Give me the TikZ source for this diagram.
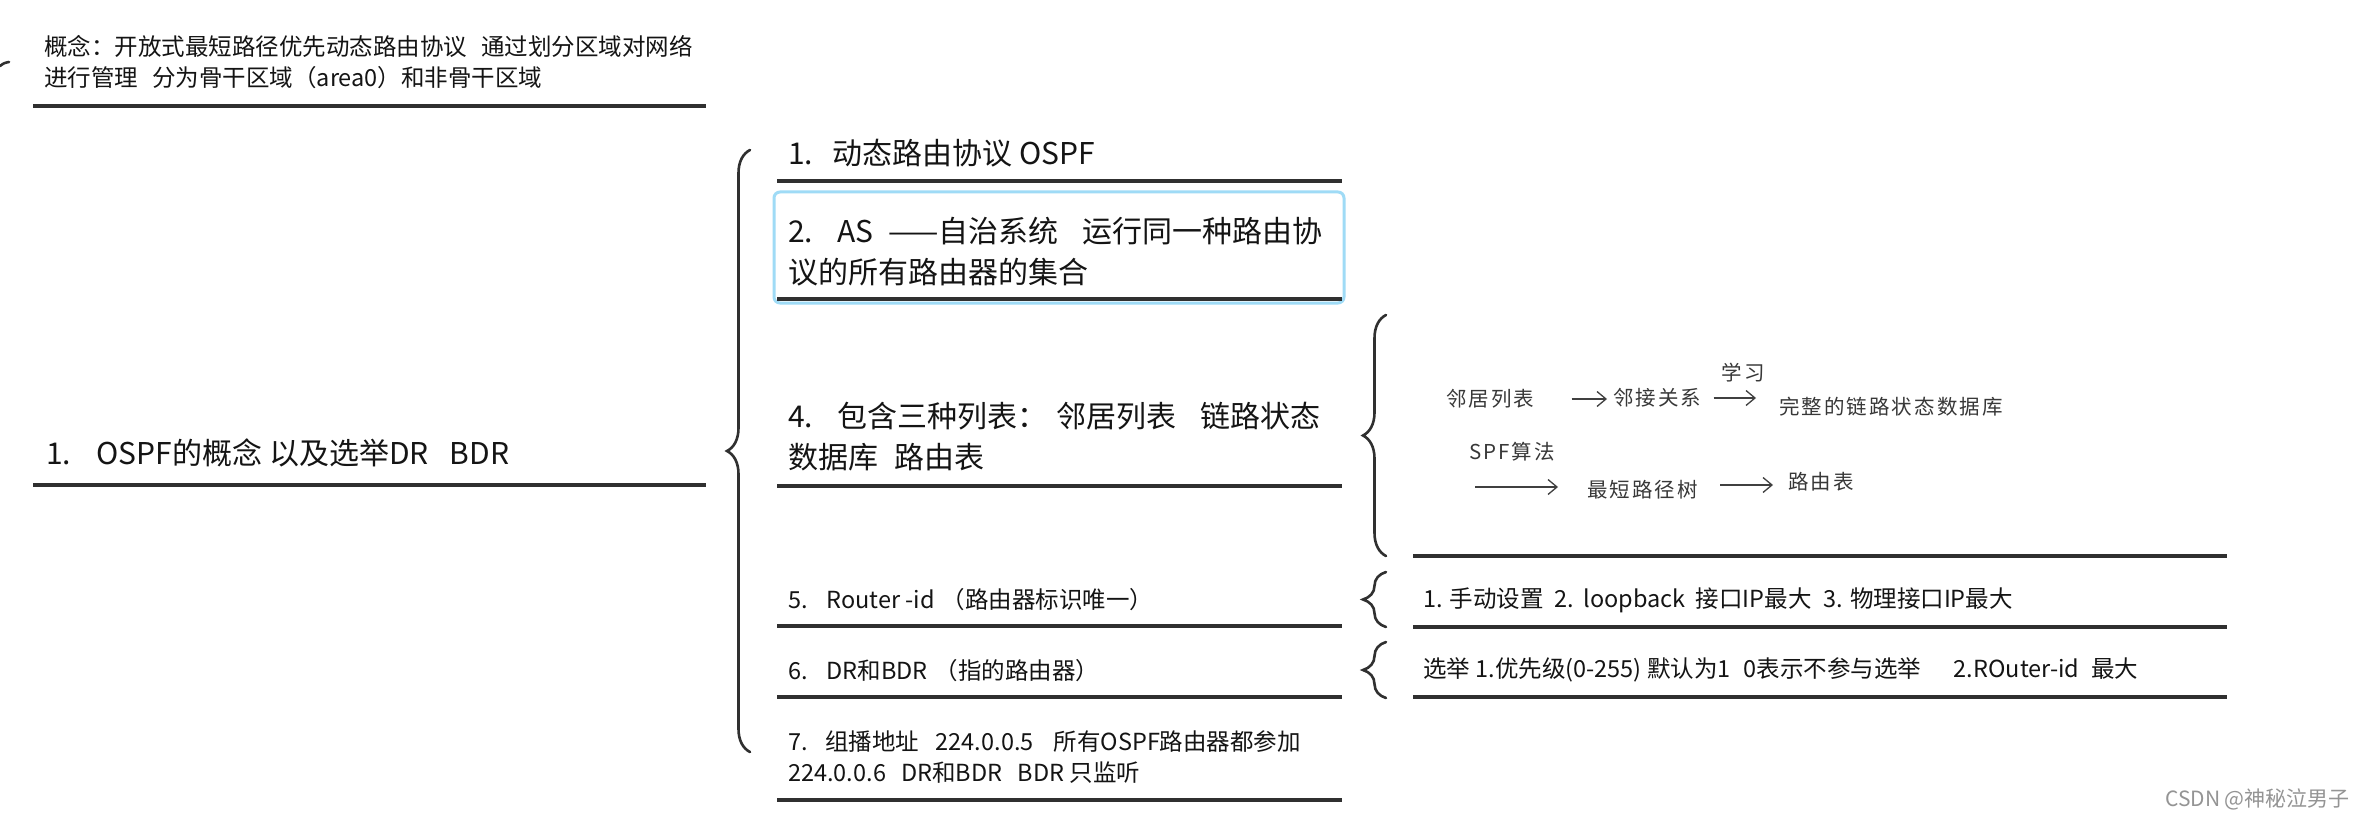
\documentclass[tikz,border=0pt]{standalone}
\usepackage{fontspec}
\setmainfont{Noto Sans CJK SC}
\newfontfamily\notefont[LetterSpace=10]{Noto Sans CJK SC}
\usetikzlibrary{decorations.pathreplacing,arrows.meta}
\definecolor{inkline}{HTML}{303030}
\definecolor{selblue}{HTML}{9FDBF6}
\newcommand{\fsz}[2]{\fontsize{#1}{#2}\selectfont}
\newcommand{\hsp}[1]{\hspace{#1em}}

\begin{document}
\begin{tikzpicture}[x=1pt,y=-1pt,
	topic/.style={anchor=west,inner sep=0pt,align=left,text=black!92},
	big/.style={topic,font=\fsz{30}{41}},
	small/.style={topic,font=\fsz{23.5}{31}},
	note/.style={inner sep=0pt,text=black!78,font=\notefont\fsz{20.5}{24}},
	uline/.style={line width=3.2pt,draw=inkline},
	bracel/.style={decorate,decoration={brace,amplitude=23pt},line width=2.6pt,draw=inkline,line cap=round},
	flow/.style={-{Straight Barb[length=9pt,width=15pt]},line width=1.3pt,draw=black!75}]
	
	\fill[white] (0,0) rectangle (2375,813);
	\useasboundingbox (0,0) rectangle (2375,813);
	
	% left column
	\coordinate (stub) at (9,62);
	\draw[line width=2.6pt,draw=inkline,line cap=round] (0,66) .. controls (4,63) .. (stub);
	\node[small] (concept) at (44,62.5) {概念：开放式最短路径优先动态路由协议\hsp{0.6}通过划分区域对网络\\进行管理\hsp{0.6}分为骨干区域（area0）和非骨干区域};
	\node[big] (ospf) at (46,453) {1.\hsp{0.85}OSPF的概念 以及选举DR\hsp{0.7}BDR};
	\draw[uline] (33,106) -- (706,106);
	\draw[uline] (33,485) -- (706,485);
	
	% main brace
	\coordinate (mainB) at (750,752);
	\coordinate (mainT) at (750,150);
	\draw[bracel] (mainB) -- (mainT);
	
	% items
	\draw[line width=3pt,draw=selblue,rounded corners=6pt] (774,192) rectangle (1344,303);
	\node[big] (item1) at (788,153) {1.\hsp{0.65}动态路由协议 OSPF};
	\node[big] (item2) at (788,252) {2.\hsp{0.8}AS\hsp{0.5}——自治系统\hsp{0.8}运行同一种路由协\\议的所有路由器的集合};
	\node[big] (item4) at (788,436.5) {4.\hsp{0.8}包含三种列表：\hsp{0.3}邻居列表\hsp{0.8}链路状态\\数据库\hsp{0.55}路由表};
	\node[small] (item5) at (788,600) {5.\hsp{0.8}Router -id\hsp{0.3}（路由器标识唯一）};
	\node[small] (item6) at (788,671) {6.\hsp{0.8}DR和BDR\hsp{0.3}（指的路由器）};
	\node[small] (item7) at (788,757.5) {7.\hsp{0.75}组播地址\hsp{0.7}224.0.0.5\hsp{0.85}所有OSPF路由器都参加\\224.0.0.6\hsp{0.65}DR和BDR\hsp{0.65}BDR 只监听};
	\foreach \y in {181,299,486,626,697,800}
		\draw[uline] (777,\y) -- (1342,\y);
	
	% right braces
	\foreach \nm/\top/\bot in {lists/315/556, rid/572/627, elect/642/698}
	{
		\coordinate (\nm B) at (1386,\bot);
		\coordinate (\nm T) at (1386,\top);
		\draw[bracel] (\nm B) -- (\nm T);
	}
	\foreach \y in {556,627,697}
		\draw[uline] (1413,\y) -- (2227,\y);
	
	\node[small] (rid) at (1423,600) {1. 手动设置\hsp{0.45}2.\hsp{0.4}loopback\hsp{0.45}接口IP最大\hsp{0.5}3. 物理接口IP最大};
	\node[small] (elect) at (1423,670) {选举 1.优先级(0-255) 默认为1\hsp{0.55}0表示不参与选举\hsp{1.4}2.ROuter-id\hsp{0.5}最大};
	
	% three lists
	\node[note,anchor=west] (nbr) at (1446,399) {邻居列表};
	\node[note,anchor=west] (adj) at (1613,398) {邻接关系};
	\node[note,anchor=west] (lsdb) at (1779,407) {完整的链路状态数据库};
	\node[note] (learn) at (1743,373) {学习};
	\node[note] (spf) at (1512,452) {SPF算法};
	\node[note,anchor=west] (spt) at (1587,490) {最短路径树};
	\node[note,anchor=west] (rtab) at (1788,482) {路由表};
	\coordinate (spfin) at (1475,487);
	
	\draw[flow,shorten <=37pt,shorten >=6pt] (nbr.east) -- (nbr.east -| adj.west);
	\draw[flow,shorten <=12pt,shorten >=23pt] (adj.east) -- (adj.east -| lsdb.west);
	\draw[flow,shorten >=29pt] (spfin) -- (spfin -| spt.west);
	\draw[flow,shorten <=22pt,shorten >=15pt] ([yshift=5pt]spt.east) -- ([yshift=5pt]spt.east -| rtab.west);
	
	\node[anchor=east,inner sep=0pt,text=black!42,font=\fsz{21}{24}] (mark) at (2350,799) {CSDN @神秘泣男子};
	
\end{tikzpicture}
\end{document}
